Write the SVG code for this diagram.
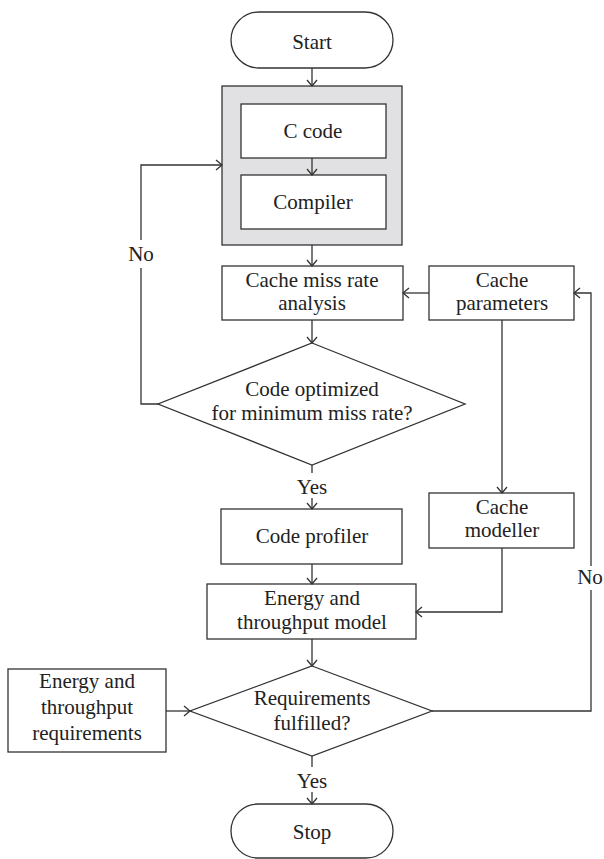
<svg xmlns="http://www.w3.org/2000/svg" width="604" height="859" viewBox="0 0 604 859">
<style>
.n{fill:#fff;stroke:#333;stroke-width:1.3}
.g{fill:#e1e1e3;stroke:#333;stroke-width:1.3}
.t{font-family:'Liberation Serif','Times New Roman','DejaVu Serif',serif;font-size:21px;fill:#222;text-anchor:middle}
.c{fill:none;stroke:#333;stroke-width:1.3}
</style>
<defs>
<marker id="a" viewBox="0 0 12 12" refX="11" refY="6" markerWidth="12" markerHeight="12" orient="auto" markerUnits="userSpaceOnUse">
<path d="M5,1 L11,6 L5,11" fill="none" stroke="#333" stroke-width="1.3"/>
</marker>
</defs>
<rect width="604" height="859" fill="#fff"/>
<g id="start"><rect class="n" x="231" y="12" width="162" height="56" rx="28"/><text class="t" x="312" y="49">Start</text></g>
<g id="codegroup"><rect class="g" x="222" y="86" width="180" height="159"/></g>
<g id="ccode"><rect class="n" x="241" y="104" width="145" height="54"/><text class="t" x="313" y="138">C code</text></g>
<g id="compiler"><rect class="n" x="241" y="175" width="145" height="54"/><text class="t" x="313" y="209">Compiler</text></g>
<g id="missrate"><rect class="n" x="222" y="266" width="181" height="54"/><text class="t" x="312" y="287">Cache miss rate</text><text class="t" x="312" y="310">analysis</text></g>
<g id="params"><rect class="n" x="429" y="266" width="145" height="54"/><text class="t" x="502" y="287">Cache</text><text class="t" x="502" y="310">parameters</text></g>
<g id="decision1"><polygon class="n" points="312,343 465,404 312,465 158,404"/><text class="t" x="312" y="396">Code optimized</text><text class="t" x="312" y="420">for minimum miss rate?</text></g>
<g id="profiler"><rect class="n" x="221" y="509" width="181" height="55"/><text class="t" x="312" y="543">Code profiler</text></g>
<g id="modeller"><rect class="n" x="429" y="493" width="145" height="55"/><text class="t" x="502" y="514">Cache</text><text class="t" x="502" y="537">modeller</text></g>
<g id="model"><rect class="n" x="207" y="584" width="209" height="55"/><text class="t" x="312" y="605">Energy and</text><text class="t" x="312" y="629">throughput model</text></g>
<g id="reqs"><rect class="n" x="8" y="669" width="158" height="83"/><text class="t" x="87" y="688">Energy and</text><text class="t" x="87" y="714">throughput</text><text class="t" x="87" y="740">requirements</text></g>
<g id="decision2"><polygon class="n" points="312,666 432,711 312,756 190,711"/><text class="t" x="312" y="705">Requirements</text><text class="t" x="312" y="730">fulfilled?</text></g>
<g id="stop"><rect class="n" x="231" y="804" width="162" height="54" rx="27"/><text class="t" x="312" y="839">Stop</text></g>
<g id="connectors">
<path class="c" d="M312,68 V86" marker-end="url(#a)"/>
<path class="c" d="M312,158 V175" marker-end="url(#a)"/>
<path class="c" d="M312,245 V266" marker-end="url(#a)"/>
<path class="c" d="M312,320 V343" marker-end="url(#a)"/>
<path class="c" d="M429,293 H403" marker-end="url(#a)"/>
<path class="c" d="M158,404 H141 V268"/>
<path class="c" d="M141,240 V165 H222" marker-end="url(#a)"/>
<text class="t" x="141" y="261">No</text>
<path class="c" d="M312,465 V473"/>
<text class="t" x="312" y="494">Yes</text>
<path class="c" d="M312,498 V509" marker-end="url(#a)"/>
<path class="c" d="M312,564 V584" marker-end="url(#a)"/>
<path class="c" d="M502,320 V493" marker-end="url(#a)"/>
<path class="c" d="M502,548 V612 H416" marker-end="url(#a)"/>
<path class="c" d="M312,639 V666" marker-end="url(#a)"/>
<path class="c" d="M166,711 H190" marker-end="url(#a)"/>
<path class="c" d="M432,711 H591 V590"/>
<path class="c" d="M591,566 V293 H574" marker-end="url(#a)"/>
<text class="t" x="590" y="584">No</text>
<path class="c" d="M312,756 V767"/>
<text class="t" x="312" y="788">Yes</text>
<path class="c" d="M312,792 V804" marker-end="url(#a)"/>
</g>
</svg>
